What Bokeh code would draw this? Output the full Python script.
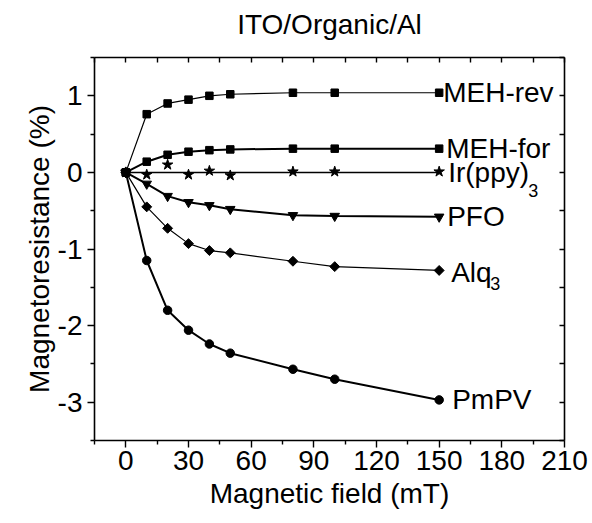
from bokeh.plotting import figure
from bokeh.models import LinearAxis, FixedTicker, Range1d, CustomJSTickFormatter
from bokeh.core.properties import value
from bokeh.embed import file_html
from bokeh.resources import INLINE
import numpy as np

# ---- data ----
field_mT = [0, 10, 20, 30, 40, 50, 80, 100, 150]
meh_rev = [0, 0.76, 0.90, 0.95, 1.00, 1.02, 1.04, 1.04, 1.04]
meh_for = [0, 0.14, 0.23, 0.27, 0.29, 0.30, 0.31, 0.31, 0.31]
ir_ppy3 = [0, -0.03, 0.10, -0.03, 0.02, -0.04, 0.01, 0.01, 0.01]
ir_fit_x = [0, 150]
ir_fit_y = [0.0, 0.0]
pfo = [0, -0.15, -0.31, -0.39, -0.43, -0.48, -0.56, -0.57, -0.58]
alq3 = [0, -0.45, -0.73, -0.93, -1.02, -1.05, -1.16, -1.23, -1.28]
pmpv = [0, -1.15, -1.80, -2.06, -2.24, -2.36, -2.57, -2.70, -2.97]

x_ticks = [0, 30, 60, 90, 120, 150, 180, 210]
x_minor = [-15, 15, 45, 75, 105, 135, 165, 195]
y_ticks = [-3, -2, -1, 0, 1]
y_minor = [-3.5, -2.5, -1.5, -0.5, 0.5, 1.5]

title_text = "ITO/Organic/Al"
series_names = ["MEH-rev", "MEH-for", "Ir(ppy)", "PFO", "Alq", "PmPV"]
subscripts = {"Ir(ppy)": "3", "Alq": "3"}

FONT = "Liberation Sans"

p = figure(width=592, height=523,
           x_range=Range1d(-15, 210), y_range=Range1d(-3.5, 1.5),
           output_backend="svg", toolbar_location=None,
           min_border_left=94, min_border_right=28,
           min_border_top=57, min_border_bottom=83,
           x_axis_label="Magnetic field (mT)",
           y_axis_label="Magnetoresistance (%)")
p.background_fill_color = "white"
p.border_fill_color = "white"
p.outline_line_color = None
p.xgrid.visible = False
p.ygrid.visible = False


def style_axis(ax, ticks, minor, labels, out):
    ax.ticker = FixedTicker(ticks=ticks, minor_ticks=minor)
    ax.axis_line_color = "black"
    ax.axis_line_width = 1.6
    ax.major_tick_line_color = "black"
    ax.minor_tick_line_color = "black"
    ax.major_tick_line_width = 1.4
    ax.minor_tick_line_width = 1.4
    if out:
        ax.major_tick_out = 7
        ax.major_tick_in = 0
        ax.minor_tick_out = 4
        ax.minor_tick_in = 0
    else:
        ax.major_tick_out = 0
        ax.major_tick_in = 5
        ax.minor_tick_out = 0
        ax.minor_tick_in = 5
    ax.axis_label_text_font = FONT
    ax.axis_label_text_font_size = "28px"
    ax.axis_label_text_font_style = "normal"
    ax.axis_label_text_color = "black"
    if labels:
        ax.major_label_text_font = FONT
        ax.major_label_text_font_size = "28px"
        ax.major_label_text_color = "black"
        ax.major_label_overrides = {t: str(t) for t in ticks}
    else:
        ax.formatter = CustomJSTickFormatter(code="return ''")
        ax.major_label_standoff = 0


style_axis(p.xaxis[0], x_ticks, x_minor, True, True)
style_axis(p.yaxis[0], y_ticks, y_minor, True, True)
p.xaxis[0].major_label_standoff = 3
p.yaxis[0].major_label_standoff = 5
p.yaxis[0].axis_label_standoff = 0

# top axis carries the chart title as its label
top_ax = LinearAxis(axis_label=title_text)
right_ax = LinearAxis()
style_axis(top_ax, x_ticks, x_minor, False, False)
style_axis(right_ax, y_ticks, y_minor, False, False)
top_ax.axis_label_standoff = 18
p.add_layout(top_ax, "above")
p.add_layout(right_ax, "right")

# ---- curves ----
p.line(field_mT, meh_rev, line_color="black", line_width=1.2)
p.scatter(field_mT, meh_rev, marker="square", size=7.5, color="black")

p.line(field_mT, meh_for, line_color="black", line_width=2)
p.scatter(field_mT, meh_for, marker="square", size=7.5, color="black")

p.line(ir_fit_x, ir_fit_y, line_color="black", line_width=1.5)
p.scatter(field_mT, ir_ppy3, marker="star", size=11, color="black")

p.line(field_mT, pfo, line_color="black", line_width=2)
p.scatter(field_mT, pfo, marker="inverted_triangle", size=9.5, color="black")

p.line(field_mT, alq3, line_color="black", line_width=1.2)
p.scatter(field_mT, alq3, marker="square", angle=np.pi / 4, size=7, color="black")

p.line(field_mT, pmpv, line_color="black", line_width=2)
p.scatter(field_mT, pmpv, marker="circle", size=8.5, color="black")

# ---- series labels anchored at the last point of each series ----
last_vals = [meh_rev[-1], meh_for[-1], ir_fit_y[-1], pfo[-1], alq3[-1], pmpv[-1]]
label_dx = [4, 7, 9, 8, 12, 13]
label_dy = [0, 0, 0, 0, 2, 0]
p.text(x=[field_mT[-1]] * len(series_names), y=last_vals, text=series_names,
       x_offset=label_dx, y_offset=label_dy,
       text_font=value(FONT), text_font_size="28px", text_color="black",
       text_baseline="middle", text_align="left")

sub_names = list(subscripts.keys())
sub_y = [ir_fit_y[-1], alq3[-1]]
p.text(x=[field_mT[-1]] * 2, y=sub_y, text=[subscripts[n] for n in sub_names],
       x_offset=[89, 51], y_offset=[18, 13],
       text_font=value(FONT), text_font_size="18px", text_color="black",
       text_baseline="middle", text_align="left")

open("out.html", "w").write(file_html(p, INLINE))
